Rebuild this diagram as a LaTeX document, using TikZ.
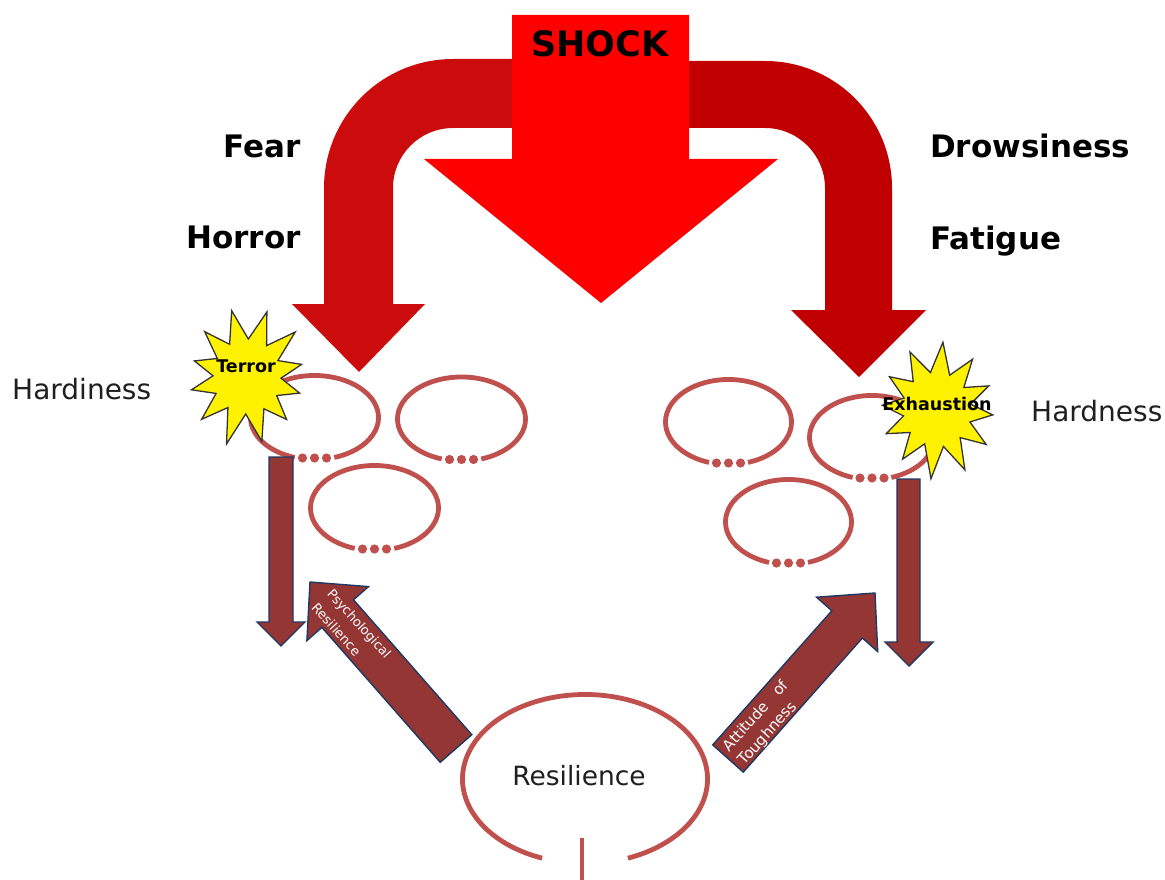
\documentclass[tikz,border=0pt]{standalone}
\usepackage{fontspec}
\setmainfont{DejaVu Sans}
\usetikzlibrary{calc}
\definecolor{shockred}{HTML}{FF0000}
\definecolor{leftred}{HTML}{CC0C0C}
\definecolor{rightred}{HTML}{C00000}
\definecolor{ringred}{HTML}{C0504D}
\definecolor{brownfill}{HTML}{943634}
\definecolor{navyline}{HTML}{1F3864}
\tikzset{
  bigword/.style={font=\fontsize{31}{36}\selectfont\bfseries, text=black, inner sep=0pt},
  sideword/.style={font=\fontsize{28}{32}\selectfont, text=black!88, inner sep=0pt},
  plainword/.style={font=\fontsize{26.5}{30}\selectfont, text=black!88, inner sep=0pt},
  ring/.style={draw=ringred, line width=4.8pt},
  ringdot/.style={fill=ringred},
  burst/.style={fill=yellow, draw=black!80, line width=1.3pt, line join=miter},
  brownarrow/.style={fill=brownfill, draw=navyline, line width=1.4pt, line join=miter},
  burstlabel/.style={font=\fontsize{17.5}{20}\selectfont\bfseries, text=black, inner sep=0pt},
  arrowlabel/.style={text=white, inner sep=0pt, align=left}
}
\newcommand{\gapring}[4]{%
  \draw[ring] ($(#1,#2)+(108:#3 and #4)$) arc[start angle=108, end angle=432, x radius=#3, y radius=#4];
  \fill[ringdot] (#1-12,#2+#4-1.5) circle[radius=4.6];
  \fill[ringdot] (#1,#2+#4-1.5) circle[radius=4.6];
  \fill[ringdot] (#1+12,#2+#4-1.5) circle[radius=4.6];
}
\begin{document}
\begin{tikzpicture}[x=1pt,y=-1pt]
\useasboundingbox (0,0) rectangle (1165,880);
\fill[white] (0,0) rectangle (1165,880);

% left curved arrow
\fill[leftred] (520,59) -- (453,59) arc[start angle=270, end angle=180, radius=129]
  -- (324,304) -- (292,304) -- (359,372) -- (425,304) -- (393,304) -- (393,188)
  arc[start angle=180, end angle=270, radius=60] -- (520,128) -- cycle;
% right curved arrow
\fill[rightred] (680,61) -- (765,61) arc[start angle=270, end angle=360, radius=127]
  -- (892,310) -- (926,310) -- (859,377) -- (791,310) -- (825,310) -- (825,188)
  arc[start angle=0, end angle=-90, radius=60] -- (680,128) -- cycle;
% shock arrow
\fill[shockred] (512,15) -- (689,15) -- (689,159) -- (778,159) -- (601,303) -- (424,159) -- (512,159) -- cycle;
\node[font=\fontsize{35}{40}\selectfont\bfseries, text=black, inner sep=0pt, anchor=base] (shock) at (600,57) {SHOCK};

% rings
\gapring{314.5}{417.5}{64}{42}
\gapring{461.5}{419}{64}{42}
\gapring{374.5}{508}{64}{42.5}
\gapring{728.5}{422}{63}{42.5}
\gapring{872}{437.5}{62.5}{42}
\gapring{788.5}{522}{63}{42.5}

% resilience ring
\draw[ring] ($(585,779)+(110.5:122.5 and 84.5)$) arc[start angle=110.5, end angle=429.5, x radius=122.5, y radius=84.5];
\coordinate (stemtop) at (582,838);
\coordinate (stembot) at (582,880);
\draw[ringred, line width=4.5pt] (stemtop) -- (stembot);
\node[plainword, anchor=base] (resil) at (579,785) {Resilience};

% brown arrows
\filldraw[brownarrow] (269,457) -- (293,457) -- (293,622) -- (305,622) -- (281,646) -- (257,622) -- (269,622) -- cycle;
\filldraw[brownarrow] (897,479) -- (920,479) -- (920,642) -- (933,642) -- (909,666) -- (885,642) -- (897,642) -- cycle;
\filldraw[brownarrow] (471.8,734.7) -- (353.5,599.8) -- (368.5,586.6) -- (310,582) -- (306.9,640.6) -- (321.9,627.4) -- (440.2,762.3) -- cycle;
\filldraw[brownarrow] (712.7,744.9) -- (831.8,610.8) -- (816.5,597.2) -- (875,593) -- (877.7,651.6) -- (862.4,638.0) -- (743.3,772.1) -- cycle;
\node[arrowlabel, rotate=-48, font=\fontsize{13}{21}\selectfont] (psy) at (351.6,630.8) {Psychological\\Resilience};
\node[arrowlabel, rotate=48, font=\fontsize{15}{20.5}\selectfont] (att) at (763.8,723.2) {Attitude\hspace{0.96em}of\\Toughness};

% bursts
\begin{scope}[shift={(247,377)}]
\filldraw[burst] (17:55) \foreach \a/\r in {32/35, 47/58, 62/36, 77/66, 92/37, 107/70, 122/36, 137/62, 152/35, 167/57, 182/34, 197/55, 212/35, 227/62, 242/37, 257/68, 272/38, 287/68, 302/37, 317/66, 332/35, 347/56, 2/34} {-- (\a:\r)} -- cycle;
\end{scope}
\begin{scope}[shift={(937,410)}]
\filldraw[burst] (5:56) \foreach \a/\r in {20/35, 35/60, 50/36, 65/66, 80/37, 95/69, 110/36, 125/60, 140/35, 155/56, 170/34, 185/55, 200/35, 215/58, 230/37, 245/64, 260/38, 275/68, 290/37, 305/62, 320/35, 335/57, 350/34} {-- (\a:\r)} -- cycle;
\end{scope}
\node[burstlabel, anchor=base] (terror) at (246,372) {Terror};
\node[burstlabel, anchor=base] (exh) at (937,410) {Exhaustion};

% side words
\node[bigword, anchor=base east] (fear) at (301,158) {Fear};
\node[bigword, anchor=base east] (horror) at (301,248) {Horror};
\node[bigword, anchor=base west] (drows) at (930,158) {Drowsiness};
\node[bigword, anchor=base west] (fatigue) at (930,249) {Fatigue};
\node[sideword, anchor=base west] (hardl) at (12,399) {Hardiness};
\node[sideword, anchor=base west] (hardr) at (1031,421) {Hardness};
\end{tikzpicture}
\end{document}
